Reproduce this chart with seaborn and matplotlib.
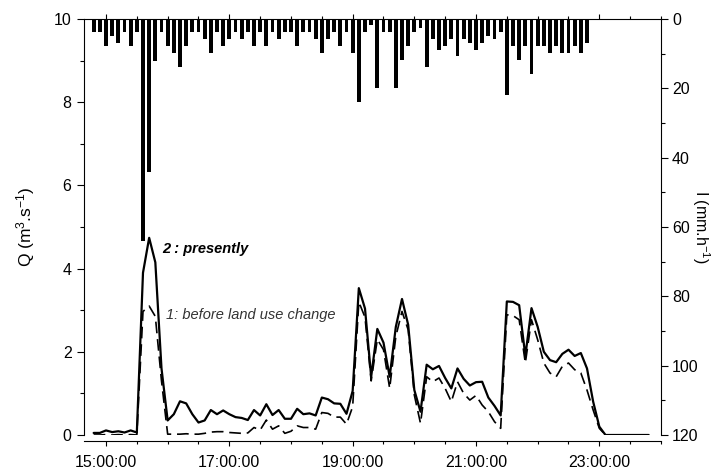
import numpy as np
import matplotlib
matplotlib.use("Agg")
import matplotlib.pyplot as plt
import seaborn as sns
from matplotlib.ticker import MultipleLocator, FixedLocator, FuncFormatter

# ---- data (time in minutes since midnight, 6-min steps starting 14:48) ----
start_min = 888
step_min = 6

q_present = [0.05, 0.05, 0.11, 0.07, 0.09, 0.06, 0.11, 0.06, 3.9, 4.74,
             4.15, 1.6, 0.35, 0.5, 0.81, 0.76, 0.5, 0.3, 0.35, 0.6,
             0.5, 0.59, 0.5, 0.43, 0.41, 0.36, 0.6, 0.47, 0.74, 0.48,
             0.6, 0.39, 0.39, 0.63, 0.5, 0.52, 0.47, 0.9, 0.86, 0.76,
             0.75, 0.51, 1.06, 3.53, 3.04, 1.4, 2.55, 2.22, 1.4, 2.6,
             3.27, 2.65, 1.08, 0.56, 1.69, 1.58, 1.66, 1.37, 1.12, 1.6,
             1.35, 1.19, 1.27, 1.28, 0.9, 0.7, 0.47, 3.21, 3.2, 3.12,
             1.9, 3.05, 2.6, 2.0, 1.8, 1.75, 1.95, 2.05, 1.9, 1.97,
             1.6, 0.8, 0.2, 0.0, 0.0, 0.0, 0.0, 0.0, 0.0, 0.0, 0.0]

q_before = [0.0, 0.0, 0.01, 0.0, 0.01, 0.0, 0.01, 0.0, 2.97, 3.1,
            2.85, 1.3, 0.02, 0.02, 0.02, 0.03, 0.02, 0.02, 0.04, 0.07,
            0.08, 0.08, 0.06, 0.05, 0.04, 0.05, 0.18, 0.12, 0.36, 0.14,
            0.22, 0.04, 0.09, 0.22, 0.18, 0.18, 0.14, 0.54, 0.52, 0.43,
            0.43, 0.26, 0.68, 3.2, 2.83, 1.3, 2.3, 2.05, 1.12, 2.37,
            2.97, 2.53, 0.96, 0.28, 1.4, 1.28, 1.37, 1.12, 0.8, 1.28,
            1.0, 0.84, 0.95, 0.72, 0.56, 0.32, 0.16, 2.89, 2.87, 2.77,
            1.73, 2.77, 2.29, 1.73, 1.49, 1.4, 1.65, 1.73, 1.57, 1.49,
            1.08, 0.6, 0.16, 0.0, 0.0, 0.0, 0.0, 0.0, 0.0, 0.0, 0.0]

rain = [3.8, 3.8, 7.9, 4.8, 6.9, 3.8, 7.9, 3.8, 64, 44,
        12, 3.8, 7.9, 9.8, 13.8, 7.9, 3.8, 3.8, 5.9, 9.8,
        3.8, 7.9, 5.9, 3.8, 5.9, 3.8, 7.9, 3.8, 7.9, 3.8,
        5.9, 3.8, 3.8, 7.9, 3.8, 3.8, 5.9, 9.8, 5.9, 3.8,
        7.9, 3.8, 9.8, 24, 3.8, 1.8, 20, 3.8, 3.8, 20,
        11.9, 7.9, 3.8, 2.7, 13.8, 5.9, 8.8, 7.9, 5.9, 10.8,
        5.9, 6.9, 8.8, 6.9, 4.8, 5.9, 3.8, 21.9, 7.9, 11.9,
        7.9, 15.9, 7.9, 7.9, 9.8, 7.9, 9.8, 9.8, 7.9, 9.8,
        6.9]

x_major = [900, 1020, 1140, 1260, 1380]

label_present = "2 : presently"
label_before = "1: before land use change"

t_q = start_min + step_min * np.arange(len(q_present))
t_r = start_min + step_min * np.arange(len(rain))

# ---- style ----
sns.set_style("ticks")
plt.rcParams['font.family'] = ['Liberation Sans', 'DejaVu Sans']
plt.rcParams['mathtext.fontset'] = 'custom'
plt.rcParams['mathtext.rm'] = 'Liberation Sans'
plt.rcParams['mathtext.it'] = 'Liberation Sans:italic'
plt.rcParams['axes.linewidth'] = 0.8
for k in ['text.color', 'axes.labelcolor', 'xtick.color', 'ytick.color',
          'axes.edgecolor', 'xtick.labelcolor', 'ytick.labelcolor']:
    plt.rcParams[k] = 'black'

fig = plt.figure(figsize=(7.12, 4.74), dpi=100)
ax = fig.add_axes([84 / 712, 39 / 474, 577 / 712, 416 / 474])
ax2 = ax.twinx()

# rainfall bars hanging from top (right axis, inverted)
sns.barplot(x=t_r, y=rain, native_scale=True, color='black', width=0.6,
            linewidth=0, saturation=1, errorbar=None, ax=ax2)

# discharge lines
sns.lineplot(x=t_q, y=q_before, ax=ax, color='black', linewidth=1.2,
             linestyle=(0, (7, 3.5)))
sns.lineplot(x=t_q, y=q_present, ax=ax, color='black', linewidth=1.6)

# ---- axes ----
ax.set_xlim(878.6, 1440)
ax.set_ylim(0, 10)
ax2.set_ylim(120, 0)

ax.xaxis.set_major_locator(FixedLocator(x_major))
ax.xaxis.set_minor_locator(MultipleLocator(30))
ax.xaxis.set_major_formatter(FuncFormatter(
    lambda v, p: f"{int(v // 60):02d}:{int(v % 60):02d}:00"))
ax.yaxis.set_major_locator(MultipleLocator(2))
ax.yaxis.set_minor_locator(MultipleLocator(1))
ax2.yaxis.set_major_locator(MultipleLocator(20))
ax2.yaxis.set_minor_locator(MultipleLocator(10))

ax.tick_params(axis='x', which='major', direction='out', length=3.6, width=0.8,
               top=True, labelsize=11.5, pad=6.5)
ax.tick_params(axis='x', which='minor', direction='out', length=2.2, width=0.8,
               top=True)
ax.tick_params(axis='y', which='major', direction='out', length=5, width=0.8,
               labelsize=11.5, pad=4, right=False)
ax.tick_params(axis='y', which='minor', direction='out', length=3, width=0.8,
               right=False)
ax2.tick_params(axis='y', which='major', direction='out', length=5, width=0.8,
                labelsize=11.5, pad=3, left=False)
ax2.tick_params(axis='y', which='minor', direction='out', length=3, width=0.8,
                left=False)

ax.spines['right'].set_visible(False)
ax.spines['bottom'].set_position(('outward', 4.3))
for s in ['left', 'bottom', 'top']:
    ax2.spines[s].set_visible(False)

ax.set_xlabel("")
ax.set_ylabel(r'Q (m$^{3}$.s$^{-1}$)', fontsize=12.5, va='center')
ax.yaxis.set_label_coords(-0.1005, 0.5)
ax2.set_ylabel(r'I (mm.h$^{-1}$)', fontsize=11.5, rotation=270, va='center')
ax2.yaxis.set_label_coords(1.069, 0.5)

ax.text(954.5, 4.47, label_present, fontsize=10.5, fontweight='bold',
        fontstyle='italic', color='black', va='center', ha='left')
ax.text(958.4, 2.88, label_before, fontsize=10.5, fontstyle='italic',
        color='#333333', va='center', ha='left')

fig.savefig('out.png', dpi=100)
